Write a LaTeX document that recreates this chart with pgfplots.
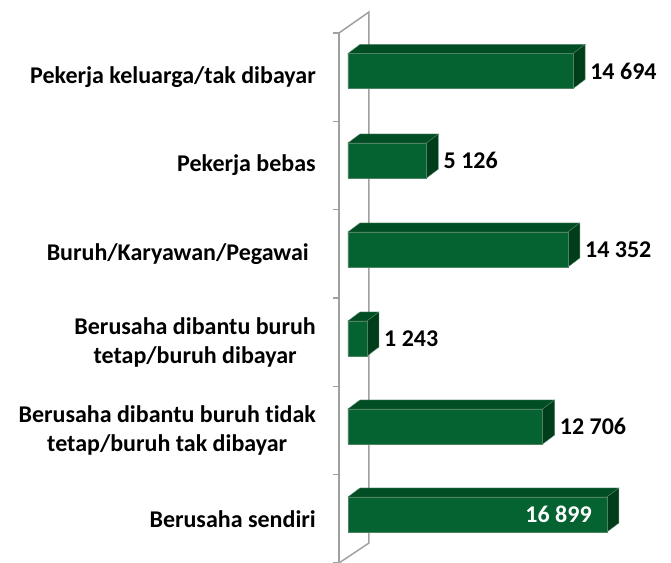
\documentclass[border=0pt]{standalone}
\usepackage{pgfplots}
\pgfplotsset{compat=1.18}
\usepackage{pgfplotstable}
\usepackage{fontspec}
\setmainfont{Carlito}[Ligatures=NoCommon]
\definecolor{frontg}{RGB}{4,99,48}
\definecolor{topg}{RGB}{2,78,36}
\definecolor{sideg}{RGB}{0,62,27}
\definecolor{edgeg}{RGB}{80,130,100}
\definecolor{wallg}{RGB}{160,160,160}
\pgfplotstableread{
y v
492 14694
402.5 5126
313.5 14352
224.5 1243
136.5 12706
}\dataA
\pgfplotstableread{
y v
48.5 16899
}\dataB
\begin{document}
\begin{tikzpicture}
\begin{axis}[
  name=ax,
  scale only axis,
  width=332bp, height=530bp,
  xmin=-587, xmax=21082,
  ymin=0, ymax=530,
  clip=false,
  axis x line=none,
  axis y line*=left,
  y axis line style={wallg, line width=1.5bp},
  ytick={44.2,132.5,220.8,309.2,397.5,485.8},
  yticklabels={Berusaha sendiri,{Berusaha dibantu buruh tidak\\tetap/buruh tak dibayar},{Berusaha dibantu buruh\\tetap/buruh dibayar},Buruh/Karyawan/Pegawai\hspace{7bp},Pekerja bebas,Pekerja keluarga/tak dibayar},
  major tick length=0pt,
  minor ytick={0,88.33,176.67,265,353.33,441.67,530},
  minor tick length=6bp,
  tick align=outside,
  minor tick style={wallg, line width=1.2bp},
  yticklabel style={anchor=east, inner sep=0pt, xshift=-23bp, align=center,
    font=\fontsize{24bp}{29bp}\selectfont\bfseries},
  /pgf/number format/1000 sep={\ },
  /pgf/number format/assume math mode=true,
]
% 3D wall
\draw[wallg, line width=1.5bp] (axis cs:-587,530) -- (axis cs:1371,551) -- (axis cs:1371,20) -- (axis cs:-587,0);
% top and side faces
\addplot[fill=topg, draw=edgeg, line width=0.4bp] coordinates {(0,509.5) (14694,509.5) (15474,518.5) (780,518.5)} --cycle;
\addplot[fill=sideg, draw=edgeg, line width=0.4bp] coordinates {(14694,509.5) (15474,518.5) (15474,483.5) (14694,474.5)} --cycle;
\addplot[fill=topg, draw=edgeg, line width=0.4bp] coordinates {(0,420) (5126,420) (5906,429) (780,429)} --cycle;
\addplot[fill=sideg, draw=edgeg, line width=0.4bp] coordinates {(5126,420) (5906,429) (5906,394) (5126,385)} --cycle;
\addplot[fill=topg, draw=edgeg, line width=0.4bp] coordinates {(0,331) (14352,331) (15132,340) (780,340)} --cycle;
\addplot[fill=sideg, draw=edgeg, line width=0.4bp] coordinates {(14352,331) (15132,340) (15132,305) (14352,296)} --cycle;
\addplot[fill=topg, draw=edgeg, line width=0.4bp] coordinates {(0,242) (1243,242) (2023,251) (780,251)} --cycle;
\addplot[fill=sideg, draw=edgeg, line width=0.4bp] coordinates {(1243,242) (2023,251) (2023,216) (1243,207)} --cycle;
\addplot[fill=topg, draw=edgeg, line width=0.4bp] coordinates {(0,154) (12706,154) (13486,163) (780,163)} --cycle;
\addplot[fill=sideg, draw=edgeg, line width=0.4bp] coordinates {(12706,154) (13486,163) (13486,128) (12706,119)} --cycle;
\addplot[fill=topg, draw=edgeg, line width=0.4bp] coordinates {(0,66) (16899,66) (17679,75) (780,75)} --cycle;
\addplot[fill=sideg, draw=edgeg, line width=0.4bp] coordinates {(16899,66) (17679,75) (17679,40) (16899,31)} --cycle;
% front faces
\addplot[xbar, bar width=35, bar shift=0pt, fill=frontg, draw=edgeg, line width=0.4bp,
  point meta=x, nodes near coords,
  nodes near coords style={anchor=west, inner sep=0pt, xshift=17bp, black,
    font=\fontsize{24bp}{29bp}\selectfont\bfseries}]
  table[x=v, y=y] {\dataA};
\addplot[xbar, bar width=35, bar shift=0pt, fill=frontg, draw=edgeg, line width=0.4bp,
  point meta=x, nodes near coords,
  nodes near coords style={anchor=east, inner sep=0pt, xshift=-15bp, white,
    font=\fontsize{24bp}{29bp}\selectfont\bfseries}]
  table[x=v, y=y] {\dataB};
\end{axis}
\pgfresetboundingbox
\path[use as bounding box] ([xshift=-339bp]ax.south west) rectangle ([yshift=33bp]ax.north east);
\end{tikzpicture}
\end{document}
